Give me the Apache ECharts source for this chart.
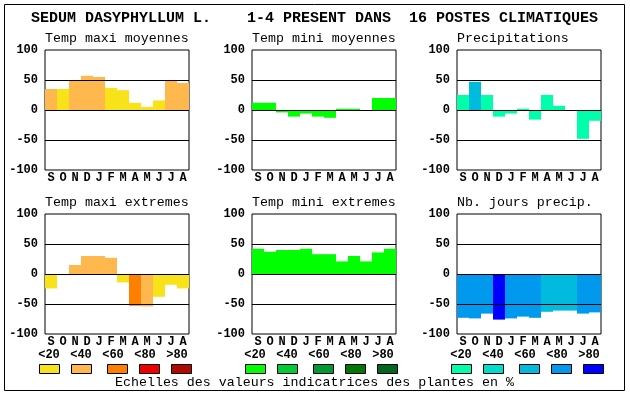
<!DOCTYPE html>
<html>
<head>
<meta charset="utf-8">
<script src="https://cdn.jsdelivr.net/npm/echarts@6/dist/echarts.min.js"></script>
<style>html,body{margin:0;padding:0;background:#fff}#c{width:630px;height:394px}</style>
</head>
<body>
<div id="c"></div>
<script>
const months = ['S','O','N','D','J','F','M','A','M','J','J','A'];
const titleText = 'SEDUM DASYPHYLLUM L.    1-4 PRESENT DANS  16 POSTES CLIMATIQUES';
const panelTitles = ['Temp maxi moyennes','Temp mini moyennes','Precipitations','Temp maxi extremes','Temp mini extremes','Nb. jours precip.'];
const legendLabels = ['<20','<40','<60','<80','>80'];
const footText = 'Echelles des valeurs indicatrices des plantes en %';

const tmaxMoy      = [35, 35, 49, 57, 55, 37, 33, 12, 5, 16, 49, 45];
const tmaxMoyClass = [1, 0, 1, 1, 1, 0, 0, 0, 0, 0, 1, 1];
const tminMoy      = [12, 12, -4, -11, -6, -11, -13, 2, 2, 0, 20, 20];
const tminMoyClass = [0, 0, 0, 0, 0, 0, 0, 0, 0, 0, 0, 0];
const precip       = [25, 47, 25, -11, -6, 2, -16, 25, 7, 0, -48, -18];
const precipClass  = [0, 2, 0, 0, 0, 0, 0, 0, 0, 0, 0, 0];
const tmaxExt      = [-24, -2, 15, 30, 30, 27, -14, -53, -54, -38, -18, -24];
const tmaxExtClass = [0, 0, 1, 1, 1, 1, 0, 2, 1, 0, 0, 0];
const tminExt      = [42, 37, 40, 40, 42, 33, 33, 21, 30, 21, 36, 42];
const tminExtClass = [0, 0, 0, 0, 0, 0, 0, 0, 0, 0, 0, 0];
const nbJours      = [-73, -74, -66, -76, -74, -71, -73, -63, -61, -61, -66, -64];
const nbJoursClass = [3, 3, 3, 4, 3, 3, 3, 2, 2, 2, 3, 3];

const warm  = ['#F8E21A','#FFB84D','#FF8000','#EE0000','#B00A00'];
const green = ['#00FF00','#00CC33','#009933','#007700','#006622'];
const blue  = ['#00FFAA','#00DDCC','#00BBDD','#0099EE','#0000FF'];

const panels = [
  {vals: tmaxMoy, cls: tmaxMoyClass, pal: warm},
  {vals: tminMoy, cls: tminMoyClass, pal: green},
  {vals: precip,  cls: precipClass,  pal: blue},
  {vals: tmaxExt, cls: tmaxExtClass, pal: warm},
  {vals: tminExt, cls: tminExtClass, pal: green},
  {vals: nbJours, cls: nbJoursClass, pal: blue}
];

const lefts = [45, 252, 457];
const tops = [50, 214];
const W = 144, H = 120;
const FONT = '"Liberation Mono", "DejaVu Sans Mono", monospace';

const grids = [], xAxes = [], yAxes = [], series = [], graphics = [];
panels.forEach((p, i) => {
  const col = i % 3, row = Math.floor(i / 3);
  grids.push({left: lefts[col], top: tops[row], width: W, height: H, show: true, borderColor: '#000', borderWidth: 1, containLabel: false});
  xAxes.push({type: 'category', gridIndex: i, data: months, boundaryGap: true,
    axisLine: {show: false}, axisTick: {show: false}, splitLine: {show: false},
    axisLabel: {interval: 0, margin: 2, color: '#000', fontFamily: FONT, fontWeight: 'bold', fontSize: 12}});
  yAxes.push({type: 'value', gridIndex: i, min: -100, max: 100, interval: 50,
    axisLine: {show: false}, axisTick: {show: false}, splitLine: {show: false},
    axisLabel: {margin: 7, color: '#000', fontFamily: FONT, fontWeight: 'bold', fontSize: 12}});
  series.push({type: 'bar', xAxisIndex: i, yAxisIndex: i, barWidth: '100%', barCategoryGap: 0,
    data: p.vals.map((v, k) => ({value: v, itemStyle: {color: p.pal[p.cls[k]]}})),
    markLine: {silent: true, symbol: ['none','none'], label: {show: false},
      lineStyle: {color: '#000', width: 1, type: 'solid'},
      data: [{yAxis: 50}, {yAxis: 0}, {yAxis: -50}]}
  });
  graphics.push({type: 'text', x: lefts[col], y: row === 0 ? 38 : 202,
    style: {text: panelTitles[i], font: '13.3px ' + FONT, fill: '#000', align: 'left', verticalAlign: 'middle'}});
});

// legends
const swX = [0, 32, 68, 100, 132];
const lbX = [10, 42, 74, 106, 138];
const legBase = [39, 245, 451];
const pals = [warm, green, blue];
legBase.forEach((b, j) => {
  for (let k = 0; k < 5; k++) {
    graphics.push({type: 'rect', shape: {x: b + swX[k] + 0.5, y: 364.5, width: 20, height: 9},
      style: {fill: pals[j][k], stroke: '#000', lineWidth: 1}});
    graphics.push({type: 'text', x: b + lbX[k], y: 355,
      style: {text: legendLabels[k], font: 'bold 12px ' + FONT, fill: '#000', align: 'center', verticalAlign: 'middle'}});
  }
});

graphics.push({type: 'text', x: 31, y: 18, style: {text: titleText, font: 'bold 15px ' + FONT, fill: '#000', align: 'left', verticalAlign: 'middle'}});
graphics.push({type: 'text', x: 115, y: 382, style: {text: footText, font: '13.3px ' + FONT, fill: '#000', align: 'left', verticalAlign: 'middle'}});
graphics.push({type: 'rect', shape: {x: 4.5, y: 4.5, width: 620, height: 386}, style: {fill: 'none', stroke: '#000', lineWidth: 1}});

const chart = echarts.init(document.getElementById('c'), null, {renderer: 'canvas'});
chart.setOption({animation: false, backgroundColor: '#fff', grid: grids, xAxis: xAxes, yAxis: yAxes, series: series, graphic: graphics});
</script>
</body>
</html>
